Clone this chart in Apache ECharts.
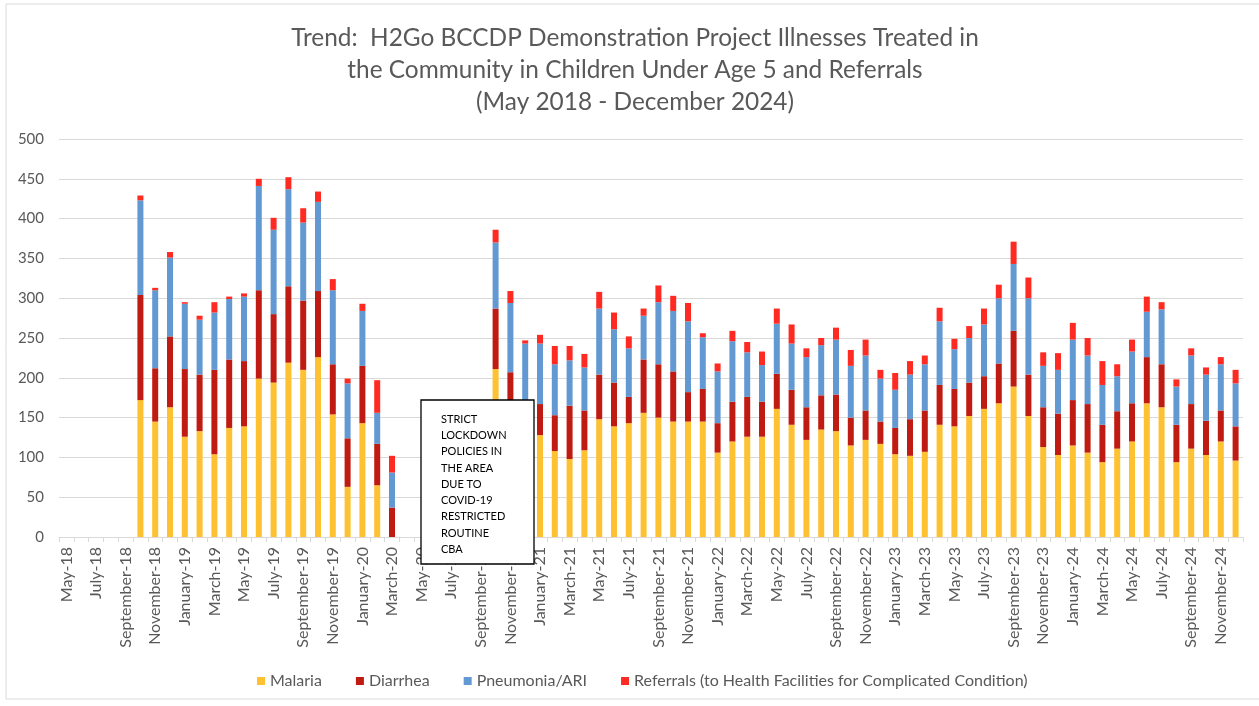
<!DOCTYPE html>
<html>
<head>
<meta charset="utf-8">
<script src="https://cdn.jsdelivr.net/npm/echarts@6/dist/echarts.min.js"></script>
<style>
  html, body { margin: 0; padding: 0; background: #fff; }
  #chart { width: 1259px; height: 706px; }
</style>
</head>
<body>
<div id="chart"></div>
<script>
// months May 2018 - December 2024
const monthNames = ['January', 'February', 'March', 'April', 'May', 'June', 'July',
  'August', 'September', 'October', 'November', 'December']
const years = ['18', '19', '20', '21', '22', '23', '24']

// gaps: May-Sep 2018 (no data yet), Apr-Sep 2020 (COVID lockdown)
const malaria = [null, null, null, null, null,
  172, 145, 163, 126, 133, 104, 137, 139, 199, 194, 219, 210, 226, 154, 63, 143, 65, 0,
  null, null, null, null, null, null,
  211, 150, 120, 128, 108, 98, 109, 148, 139, 143, 156, 150, 145, 145, 145, 106, 120, 126, 126, 161,
  141, 122, 135, 133, 115, 122, 117, 104, 102, 107, 141, 139, 152, 161, 168, 189, 152, 113, 103, 115,
  106, 94, 111, 120, 168, 163, 94, 111, 103, 120, 96]
const diarrhea = [null, null, null, null, null,
  132, 67, 89, 85, 71, 106, 86, 82, 111, 86, 96, 87, 83, 63, 61, 72, 52, 37,
  null, null, null, null, null, null,
  76, 57, 45, 39, 45, 67, 50, 56, 55, 33, 67, 67, 63, 37, 41, 37, 50, 50, 44, 44,
  44, 41, 43, 46, 35, 37, 28, 33, 46, 52, 50, 47, 42, 41, 50, 70, 52, 50, 52, 57,
  61, 47, 47, 48, 58, 54, 47, 56, 43, 39, 43]
const pneumonia = [null, null, null, null, null,
  119, 98, 99, 82, 69, 72, 76, 81, 131, 106, 122, 98, 112, 93, 69, 69, 39, 44,
  null, null, null, null, null, null,
  83, 87, 78, 76, 64, 57, 54, 83, 67, 61, 55, 78, 76, 89, 65, 65, 76, 56, 46, 63,
  58, 63, 63, 69, 65, 69, 54, 48, 56, 58, 80, 50, 56, 65, 82, 84, 96, 52, 55, 76,
  61, 50, 44, 65, 57, 69, 48, 61, 58, 58, 54]
const referrals = [null, null, null, null, null,
  6, 3, 7, 2, 5, 13, 3, 4, 9, 15, 15, 18, 13, 14, 6, 9, 41, 21,
  null, null, null, null, null, null,
  16, 15, 4, 11, 23, 18, 17, 21, 21, 15, 9, 21, 19, 23, 5, 10, 13, 13, 17, 19,
  24, 11, 9, 15, 20, 20, 11, 21, 17, 11, 17, 13, 15, 20, 17, 28, 26, 17, 21, 21,
  22, 30, 15, 15, 19, 9, 9, 9, 9, 9, 17]

const noteLines = ['STRICT', 'LOCKDOWN', 'POLICIES IN', 'THE AREA', 'DUE TO',
  'COVID-19', 'RESTRICTED', 'ROUTINE', 'CBA']

const months = []
years.forEach((y, yi) => {
  monthNames.forEach((m, mi) => {
    if (yi === 0 && mi < 4) return
    months.push(m + '-' + y)
  })
})

const font = 'Lato, "Open Sans", sans-serif'
const grey = '#595959'

const chart = echarts.init(document.getElementById('chart'))

function barSeries(name, data, color) {
  return {
    name: name,
    type: 'bar',
    stack: 'total',
    barWidth: 6,
    itemStyle: { color: color },
    data: data
  }
}

const option = {
  animation: false,
  textStyle: { fontFamily: font },
  title: {
    text: 'Trend:  H2Go BCCDP Demonstration Project Illnesses Treated in\nthe Community in Children Under Age 5 and Referrals\n(May 2018 - December 2024)',
    left: 630,
    textAlign: 'center',
    top: 17,
    textStyle: {
      fontFamily: font,
      fontSize: 24.4,
      lineHeight: 32,
      fontWeight: 'normal',
      color: grey
    }
  },
  legend: {
    left: 252,
    top: 668,
    icon: 'rect',
    itemWidth: 8,
    itemHeight: 8,
    itemGap: 34,
    textStyle: { fontFamily: font, fontSize: 16, color: grey },
    data: ['Malaria', 'Diarrhea', 'Pneumonia/ARI', 'Referrals (to Health Facilities for Complicated Condition)']
  },
  grid: {
    left: 59,
    right: 16,
    top: 139,
    bottom: 169
  },
  xAxis: {
    type: 'category',
    data: months,
    axisLine: { lineStyle: { color: '#d9d9d9' } },
    axisTick: { show: true, interval: 0, length: 5, lineStyle: { color: '#d9d9d9' } },
    axisLabel: {
      rotate: 90,
      interval: 1,
      fontFamily: font,
      fontSize: 16,
      color: grey,
      margin: 10
    }
  },
  yAxis: {
    type: 'value',
    min: 0,
    max: 500,
    interval: 50,
    axisLine: { show: false },
    axisTick: { show: false },
    splitLine: { lineStyle: { color: '#d9d9d9' } },
    axisLabel: { fontFamily: font, fontSize: 15, color: grey, margin: 15 }
  },
  graphic: [
    {
      type: 'rect',
      shape: { x: 6, y: 4, width: 1300, height: 695 },
      style: { fill: 'none', stroke: '#d9d9d9', lineWidth: 1 },
      silent: true
    },
    {
      type: 'rect',
      z: 100,
      shape: { x: 421, y: 400, width: 113, height: 164 },
      style: { fill: '#fff', stroke: '#000', lineWidth: 1.3 }
    },
    {
      type: 'text',
      z: 101,
      x: 441,
      y: 411,
      style: {
        text: noteLines.join('\n'),
        fontFamily: font,
        fontSize: 11,
        lineHeight: 16.3,
        fill: '#000'
      }
    }
  ],
  series: [
    barSeries('Malaria', malaria, '#FDC131'),
    barSeries('Diarrhea', diarrhea, '#C01B12'),
    barSeries('Pneumonia/ARI', pneumonia, '#6399D2'),
    barSeries('Referrals (to Health Facilities for Complicated Condition)', referrals, '#FF2A22')
  ]
}

chart.setOption(option)
</script>
</body>
</html>
